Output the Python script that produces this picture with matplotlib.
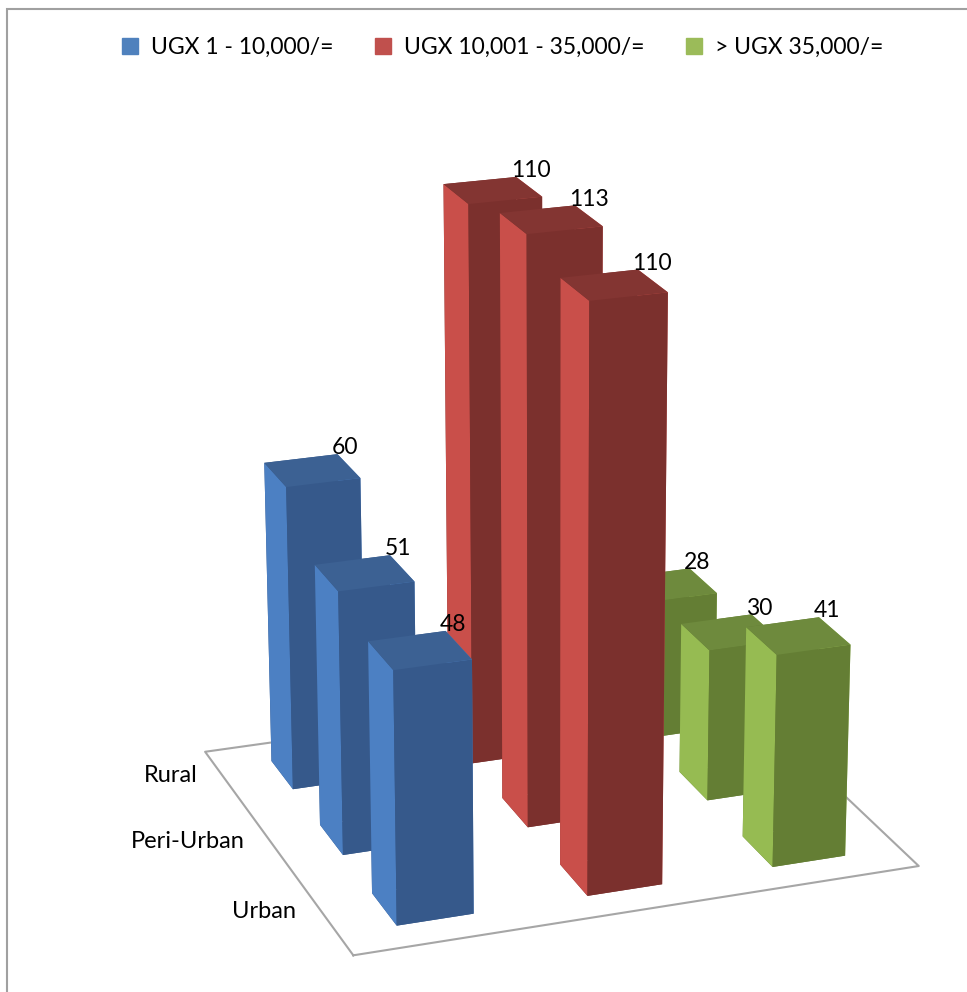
import numpy as np
import matplotlib
matplotlib.use("Agg")
import matplotlib.pyplot as plt
from matplotlib.patches import Rectangle
from mpl_toolkits.mplot3d import proj3d

plt.rcParams['font.family'] = ['Lato', 'DejaVu Sans']

# spending bands (series) and locations (categories, front to back)
bands = ['UGX 1 - 10,000/=', 'UGX 10,001 - 35,000/=', '> UGX 35,000/=']
locations = ['Urban', 'Peri-Urban', 'Rural']
low_band = [48, 51, 60]
mid_band = [110, 113, 110]
high_band = [41, 30, 28]

# face colours: front, side, top
palettes = [
    ('#36598b', '#4c80c3', '#3c6193'),
    ('#7b302d', '#c94f4a', '#833532'),
    ('#647e34', '#96bb52', '#6e8a3d'),
]
legend_colors = ['#4f81bd', '#c0504d', '#9bbb59']

fig = plt.figure(figsize=(9.67, 9.92), dpi=100)
ax = fig.add_axes([0.005, -0.071, 1.1, 1.1], projection='3d', computed_zorder=False)
ax.set_proj_type('persp', focal_length=0.75)
ax.view_init(elev=20, azim=-110)
ax.set_xlim(0, 3)
ax.set_ylim(0, 3)
ax.set_zlim(0, 120)
ax.set_box_aspect((0.93, 0.82, 1.05), zoom=0.94)
ax.set_xticks([])
ax.set_yticks([])
ax.set_zticks([])
ax.set_axis_off()

# floor outline
fx = [0, 3, 3, 0, 0]
fy = [0, 0, 3, 3, 0]
ax.plot(fx, fy, [0] * 5, color='#a6a6a6', lw=1.5, zorder=1)

bw, bd = 0.4, 0.45
xs, ys, hs, cols = [], [], [], []
for i, vals in enumerate([low_band, mid_band, high_band]):
    front, side, top = palettes[i]
    for j, v in enumerate(vals):
        xs.append(i + 0.5 - bw / 2)
        ys.append(j + 0.5 - bd / 2)
        hs.append(v)
        # bar3d face order: -z, +z, -y, +y, -x, +x
        cols += [front, top, front, front, side, side]

ax.bar3d(xs, ys, np.zeros(len(xs)), bw, bd, hs, color=cols, shade=False,
         edgecolor='none', zorder=2)

# project label anchors to 2D once the view is set up
fig.canvas.draw()
M = ax.get_proj()

for x, y, h in zip(xs, ys, hs):
    px, py, _ = proj3d.proj_transform(x + bw, y + bd, h, M)
    ax.annotate(str(h), xy=(px, py), xycoords='data', xytext=(-4, -3),
                textcoords='offset points', fontsize=16.5, ha='left',
                va='bottom', zorder=5)

for j, name in enumerate(locations):
    px, py, _ = proj3d.proj_transform(0, j + 0.5, 0, M)
    ax.annotate(name, xy=(px, py), xycoords='data', xytext=(-22, 5),
                textcoords='offset points', fontsize=17, ha='right',
                va='center', zorder=5)

# legend along the top
handles = [Rectangle((0, 0), 1, 1, color=c) for c in legend_colors]
fig.legend(handles, bands, loc='center', bbox_to_anchor=(0.52, 0.952),
           ncol=3, frameon=False, fontsize=16.5, handlelength=0.7,
           handleheight=0.7, handletextpad=0.57, columnspacing=1.8)

fig.patches.append(Rectangle((7 / 967, -0.1), 1.2, 1 - 9 / 992 + 0.1,
                             transform=fig.transFigure, fill=False,
                             edgecolor='#a0a0a0', lw=1.5))

fig.savefig('out.png', dpi=100)
